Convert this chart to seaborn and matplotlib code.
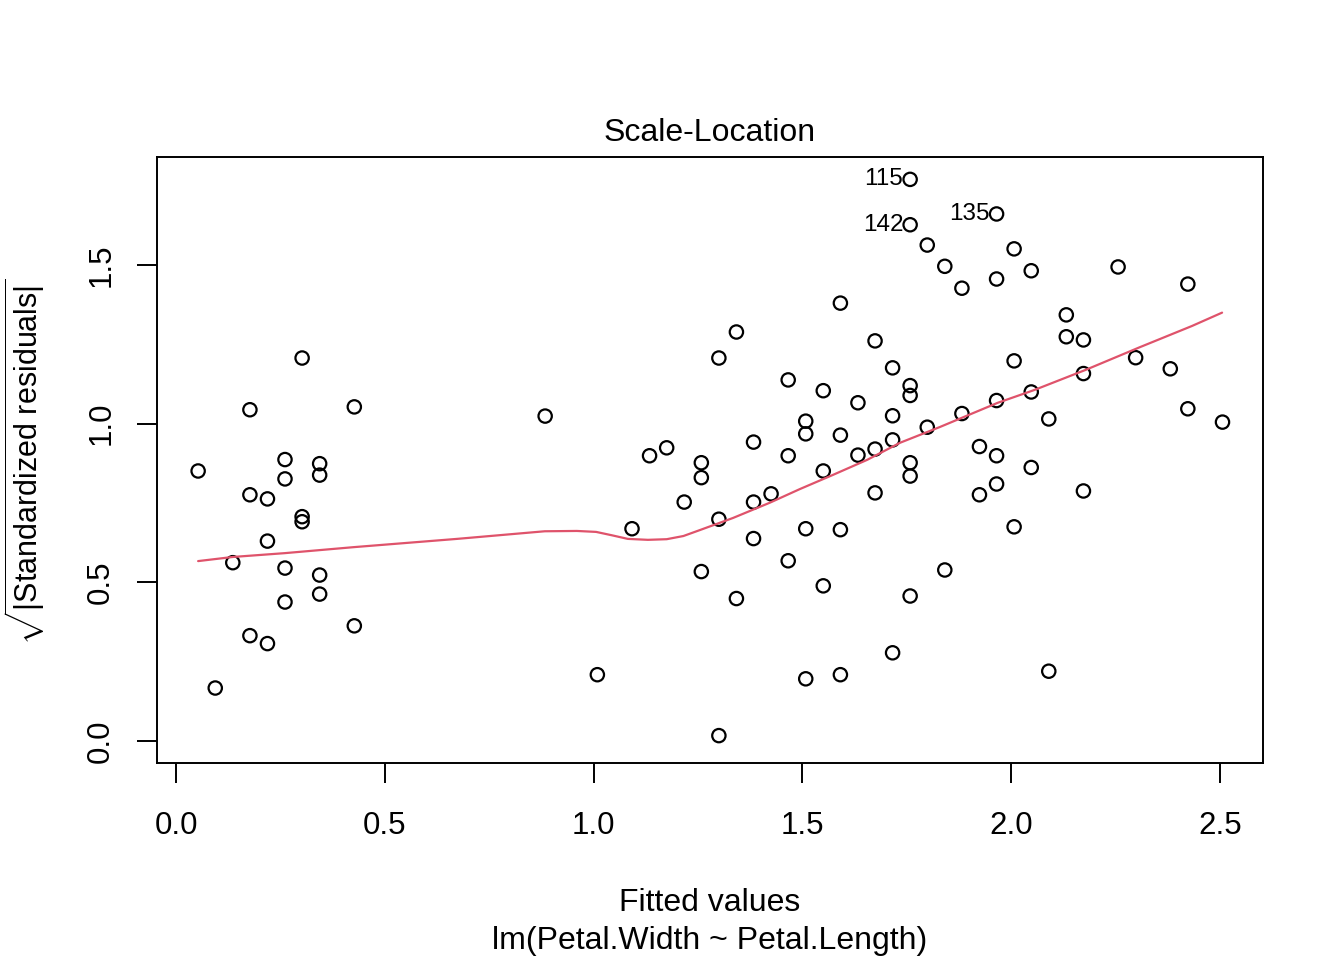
import numpy as np
import pandas as pd
import matplotlib
matplotlib.use("Agg")
import matplotlib.pyplot as plt
import seaborn as sns

# ---- data ----
fitted = [
    0.053, 0.094, 0.136,
    0.177, 0.177, 0.177,
    0.219, 0.219, 0.219,
    0.261, 0.261, 0.261, 0.261,
    0.302, 0.302, 0.302,
    0.344, 0.344, 0.344, 0.344,
    0.427, 0.427,
    0.884, 1.009, 1.092, 1.134, 1.175, 1.217,
    1.258, 1.258, 1.258,
    1.300, 1.300, 1.300,
    1.342, 1.342,
    1.383, 1.383, 1.383,
    1.425,
    1.466, 1.466, 1.466,
    1.508, 1.508, 1.508, 1.508,
    1.550, 1.550, 1.550,
    1.591, 1.591, 1.591, 1.591,
    1.633, 1.633,
    1.674, 1.674, 1.674,
    1.716, 1.716, 1.716, 1.716,
    1.758, 1.758, 1.758, 1.758, 1.758, 1.758, 1.758,
    1.799, 1.799,
    1.841, 1.841,
    1.882, 1.882,
    1.924, 1.924,
    1.965, 1.965, 1.965, 1.965, 1.965,
    2.007, 2.007, 2.007,
    2.048, 2.048, 2.048,
    2.090, 2.090,
    2.132, 2.132,
    2.173, 2.173, 2.173,
    2.256, 2.298, 2.381,
    2.423, 2.423,
    2.506,
]
sqrt_std_resid = [
    0.851, 0.167, 0.562,
    1.044, 0.776, 0.332,
    0.763, 0.630, 0.307,
    0.887, 0.826, 0.545, 0.438,
    1.207, 0.707, 0.691,
    0.874, 0.838, 0.523, 0.463,
    1.053, 0.363,
    1.024, 0.209, 0.669, 0.899, 0.924, 0.753,
    0.877, 0.830, 0.534,
    1.207, 0.699, 0.017,
    1.289, 0.449,
    0.942, 0.753, 0.638,
    0.779,
    1.138, 0.899, 0.568,
    1.008, 0.968, 0.669, 0.196,
    1.104, 0.851, 0.489,
    1.380, 0.964, 0.666, 0.209,
    1.066, 0.901,
    1.261, 0.920, 0.782,
    1.176, 1.025, 0.949, 0.278,
    1.770, 1.627, 1.120, 1.089, 0.877, 0.835, 0.457,
    1.563, 0.989,
    1.496, 0.539,
    1.427, 1.032,
    0.928, 0.776,
    1.661, 1.456, 1.073, 0.899, 0.810,
    1.551, 1.198, 0.675,
    1.482, 1.100, 0.862,
    1.015, 0.220,
    1.343, 1.274,
    1.264, 1.158, 0.788,
    1.494, 1.208, 1.173,
    1.440, 1.047,
    1.005,
]

# labels of the three largest values (ordered by increasing value)
outlier_ids = ["142", "135", "115"]

# smoother (red line)
smooth_x = [0.053, 0.136, 0.260, 0.426, 0.673, 0.883, 0.960, 1.006, 1.045,
            1.082, 1.130, 1.175, 1.215, 1.255, 1.334, 1.422, 1.494, 1.572,
            1.655, 1.734, 1.830, 1.968, 2.055, 2.179, 2.306, 2.433, 2.505]
smooth_y = [0.567, 0.580, 0.592, 0.611, 0.637, 0.661, 0.662, 0.659, 0.648,
            0.637, 0.634, 0.636, 0.646, 0.665, 0.703, 0.751, 0.794, 0.838,
            0.886, 0.940, 0.990, 1.066, 1.106, 1.170, 1.240, 1.308, 1.350]

x_ticks = [0.0, 0.5, 1.0, 1.5, 2.0, 2.5]
y_ticks = [0.0, 0.5, 1.0, 1.5]

title = "Scale-Location"
xlabel = "Fitted values"
subcaption = "lm(Petal.Width ~ Petal.Length)"

# ---- style ----
sns.set_theme(style="white")
plt.rcParams["font.family"] = ["Liberation Sans", "DejaVu Sans"]
plt.rcParams["text.color"] = "black"
plt.rcParams["axes.labelcolor"] = "black"
plt.rcParams["xtick.color"] = "black"
plt.rcParams["ytick.color"] = "black"
plt.rcParams["mathtext.fontset"] = "custom"
plt.rcParams["mathtext.rm"] = "Liberation Sans"
plt.rcParams["mathtext.it"] = "Liberation Sans:italic"
plt.rcParams["mathtext.bf"] = "Liberation Sans:bold"

W, H = 1344, 960
fig = plt.figure(figsize=(W / 100, H / 100), dpi=100)
L, R, T, B = 157, 1263, 157, 763
ax = fig.add_axes([L / W, 1 - B / H, (R - L) / W, (B - T) / H])

df = pd.DataFrame({"fitted": fitted, "sr": sqrt_std_resid})
sns.scatterplot(data=df, x="fitted", y="sr", ax=ax, marker="o", s=92,
                facecolor="none", edgecolor="black", linewidth=1.6, legend=False)

sm = pd.DataFrame({"x": smooth_x, "y": smooth_y})
sns.lineplot(data=sm, x="x", y="y", ax=ax, color="#DF536B", linewidth=1.6,
             sort=False, estimator=None, legend=False)

# outlier labels
arr = np.asarray(sqrt_std_resid)
idx = np.argsort(arr)[-3:]
for lab, i in zip(outlier_ids, idx):
    ax.annotate(lab, (fitted[i], sqrt_std_resid[i]), xytext=(-5, 0),
                textcoords="offset points", ha="right", va="center",
                fontsize=17.5, color="black")

ax.set_xlim(-0.0455, 2.603)
ax.set_ylim(-0.0693, 1.8405)
ax.set_xticks(x_ticks)
ax.set_xticklabels([f"{v:.1f}" for v in x_ticks])
ax.set_yticks(y_ticks)
ax.set_yticklabels([f"{v:.1f}" for v in y_ticks], rotation=90, va="center")
ax.tick_params(axis="both", direction="out", length=14.4, width=1.4,
               labelsize=22.5, colors="black", bottom=True, left=True)
ax.tick_params(axis="x", pad=20)
ax.tick_params(axis="y", pad=15)
for s in ax.spines.values():
    s.set_visible(True)
    s.set_color("black")
    s.set_linewidth(1.4)
ax.set_xlabel("")
ax.set_ylabel("")
ax.grid(False)

fig.text(710 / W, 1 - 133 / H, title, ha="center", va="center", fontsize=23)
fig.text(710 / W, 1 - 903 / H, xlabel, ha="center", va="center", fontsize=23)
fig.text(710 / W, 1 - 941 / H, subcaption, ha="center", va="center", fontsize=23)
fig.text(25 / W, 1 - 462 / H, r"$\sqrt{|\mathrm{Standardized\ residuals}|}$",
         ha="center", va="center", rotation=90, fontsize=22)

fig.savefig("out.png", dpi=100, facecolor="white")
